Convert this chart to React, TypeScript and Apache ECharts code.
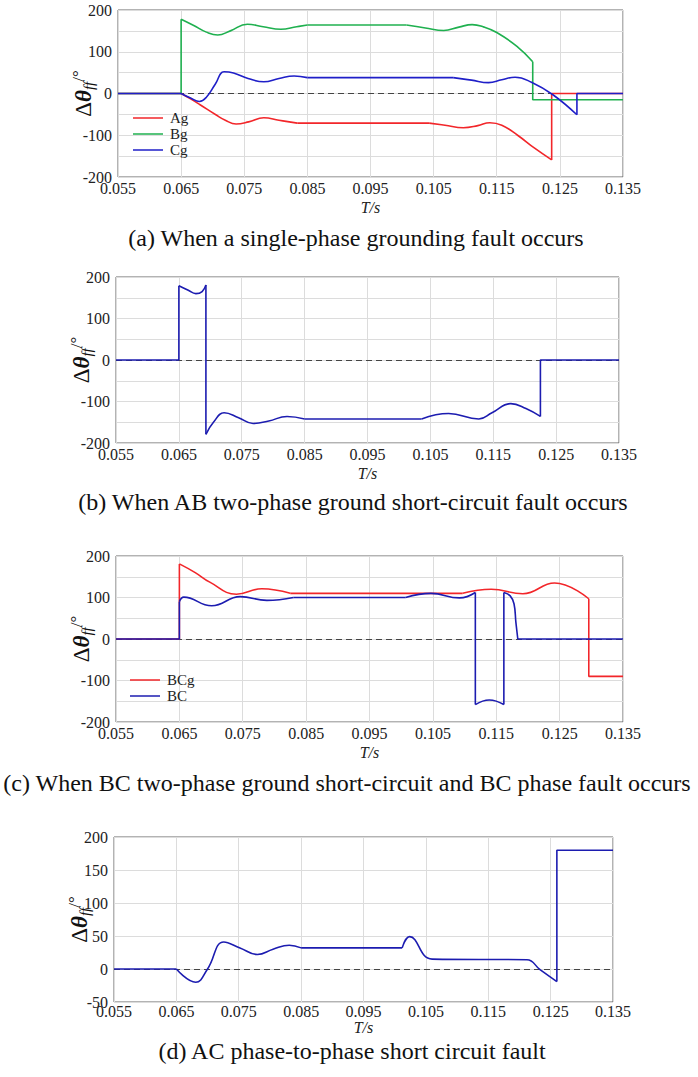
import React, { useEffect, useRef } from 'react';
import * as echarts from 'echarts';

type Pt = [number, number];

// time offset of the x axis (first tick)
const T0 = 0.055;
const T1 = 0.135;

// (a) single-phase grounding fault
const AG: Pt[] = [
  [0.055, 0], [0.065, 0], [0.0665, -13], [0.068, -27], [0.0705, -51], [0.072, -64], [0.0737, -73],
  [0.0757, -68], [0.0781, -58], [0.0805, -64], [0.0834, -71], [0.085, -71], [0.1043, -71],
  [0.1068, -76], [0.1097, -82], [0.112, -77], [0.1139, -70], [0.1158, -76], [0.1183, -100],
  [0.121, -131], [0.1237, -159], [0.1237, 0], [0.135, 0],
];
const BG: Pt[] = [
  [0.055, 0], [0.065, 0], [0.065, 178], [0.067, 163], [0.069, 147], [0.0708, 140], [0.0728, 150],
  [0.0755, 166], [0.078, 160], [0.0808, 154], [0.0833, 160], [0.085, 164], [0.1007, 164],
  [0.1037, 157], [0.1066, 151], [0.109, 159], [0.1111, 165], [0.113, 159], [0.115, 146],
  [0.1182, 113], [0.1207, 76], [0.1207, -15], [0.135, -15],
];
const CG: Pt[] = [
  [0.055, 0], [0.065, 0], [0.0665, -11], [0.0679, -19], [0.069, -9], [0.0704, 22], [0.0718, 52],
  [0.0733, 49], [0.0756, 36], [0.0781, 28], [0.0805, 36], [0.0829, 42], [0.085, 38], [0.1081, 38],
  [0.111, 32], [0.1137, 26], [0.1158, 33], [0.1179, 39], [0.1205, 27], [0.1239, -3],
  [0.1277, -51], [0.1277, 0], [0.135, 0],
];

// (b) AB two-phase ground short-circuit
const AB: Pt[] = [
  [0.055, 0], [0.065, 0], [0.065, 179], [0.0665, 168], [0.0677, 160], [0.0687, 165], [0.0693, 181],
  [0.0693, -179], [0.0705, -150], [0.0722, -127], [0.0745, -139], [0.0768, -153], [0.0793, -147],
  [0.0822, -136], [0.085, -142], [0.1036, -142], [0.1079, -129], [0.1127, -142], [0.1148, -127],
  [0.1178, -105], [0.1202, -117], [0.1225, -136], [0.1225, 0], [0.135, 0],
];

// (c) BC two-phase ground short-circuit and BC phase fault
const BCG: Pt[] = [
  [0.055, 0], [0.065, 0], [0.065, 181], [0.0675, 160], [0.0698, 137], [0.074, 108], [0.078, 121],
  [0.0825, 110], [0.085, 110], [0.1097, 110], [0.1142, 120], [0.1192, 109], [0.1242, 135],
  [0.1296, 97], [0.1296, -90], [0.135, -90],
];
const BC: Pt[] = [
  [0.055, 0], [0.065, 0], [0.065, 90], [0.0657, 101], [0.0701, 80], [0.0746, 102], [0.0788, 93],
  [0.083, 100], [0.1007, 100], [0.1047, 110], [0.1092, 99], [0.1117, 112], [0.1117, -158],
  [0.1139, -147], [0.1162, -158], [0.1162, 112], [0.1172, 104], [0.1178, 85], [0.1181, 40],
  [0.1184, 0], [0.135, 0],
];

// (d) AC phase-to-phase short circuit
const AC: Pt[] = [
  [0.055, 0], [0.065, 0], [0.0681, -20], [0.07, 0], [0.0726, 41], [0.0752, 32], [0.078, 22],
  [0.0805, 30], [0.0831, 36], [0.085, 32], [0.1012, 32], [0.1024, 49], [0.106, 15], [0.1212, 14],
  [0.1233, -1], [0.126, -19], [0.126, 180], [0.135, 180],
];

const CAPTIONS = [
  '(a) When a single-phase grounding fault occurs',
  '(b) When AB two-phase ground short-circuit fault occurs',
  '(c) When BC two-phase ground short-circuit and BC phase fault occurs',
  '(d) AC phase-to-phase short circuit fault',
];

const RED = '#f2262a';
const GREEN = '#1fb04f';
const BLUE = '#1f1fc8';
const NAVY = '#1c1cb0';

const FONT = 'Liberation Serif';

function pieces(pts: Pt[]) {
  const out: { smooth: boolean; data: Pt[] }[] = [];
  let cur: Pt[] = [pts[0]];
  let curSmooth: boolean | null = null;
  for (let i = 1; i < pts.length; i++) {
    const a = pts[i - 1];
    const b = pts[i];
    const s = !(a[0] === b[0] || a[1] === b[1]);
    if (curSmooth === null || curSmooth === s) {
      curSmooth = s;
      cur.push(b);
    } else {
      out.push({ smooth: curSmooth, data: cur });
      cur = [a, b];
      curSmooth = s;
    }
  }
  out.push({ smooth: !!curSmooth, data: cur });
  return out;
}

function mkSeries(name: string, pts: Pt[], color: string, gi: number, zero: boolean) {
  return pieces(pts).map((p, k) => {
    const s: any = {
      type: 'line',
      name,
      xAxisIndex: gi,
      yAxisIndex: gi,
      data: p.data.map(([t, v]) => [t - T0, v]),
      smooth: p.smooth ? 0.45 : false,
      symbol: 'none',
      lineStyle: { color, width: 1.6 },
      itemStyle: { color },
      z: 3,
    };
    if (zero && k === 0) {
      s.markLine = {
        silent: true,
        symbol: 'none',
        label: { show: false },
        lineStyle: { type: [6, 4], color: '#444', width: 1 },
        data: [{ yAxis: 0 }],
        z: 2,
      };
    }
    return s;
  });
}

const GRIDS = [
  { left: 118, top: 10, width: 505, height: 167 },
  { left: 116, top: 277, width: 503, height: 166 },
  { left: 116, top: 556, width: 507, height: 166 },
  { left: 114, top: 837, width: 499, height: 165 },
];
const X_NAME_GAP = [22, 22, 22, 17];
const X_LABEL_MARGIN = [3, 3, 3, 1];
const CAPTION_Y = [238, 502, 783, 1051];
const CAPTION_X = [356, 353, 347, 352];

const yName = '{d|Δ}{t|θ}{s|ff}{u|/°}';
const yRich = {
  d: { fontSize: 23, fontFamily: FONT, color: '#111', lineHeight: 26 },
  t: { fontSize: 23, fontFamily: FONT, fontStyle: 'italic', fontWeight: 'bold', color: '#111', lineHeight: 26 },
  s: { fontSize: 15, fontFamily: FONT, fontStyle: 'italic', color: '#111', verticalAlign: 'bottom', lineHeight: 15 },
  u: { fontSize: 17, fontFamily: FONT, color: '#111', verticalAlign: 'top', lineHeight: 18 },
};

export default function App() {
  const ref = useRef<HTMLDivElement>(null);
  useEffect(() => {
    if (!ref.current) return;
    const chart = echarts.init(ref.current, undefined, { renderer: 'svg' });
    const gridLine = { show: true, lineStyle: { color: '#dcdcdc', width: 1 } };
    const xAxis = GRIDS.map((_, i) => ({
      gridIndex: i,
      type: 'value',
      min: 0,
      max: T1 - T0,
      interval: 0.01,
      axisLabel: {
        formatter: (v: number) => (v + T0).toFixed(3),
        fontSize: 16,
        fontFamily: FONT,
        color: '#222',
        margin: X_LABEL_MARGIN[i],
      },
      axisLine: { show: false },
      axisTick: { show: false },
      splitLine: gridLine,
      name: 'T/s',
      nameLocation: 'middle',
      nameGap: X_NAME_GAP[i],
      nameMoveOverlap: false,
      nameTextStyle: { fontSize: 16, fontFamily: FONT, fontStyle: 'italic', color: '#222' },
    }));
    const yAxis = GRIDS.map((_, i) => {
      const d = i === 3;
      return {
        gridIndex: i,
        type: 'value',
        min: d ? -50 : -200,
        max: 200,
        interval: d ? 50 : 100,
        minorTick: { show: false, splitNumber: 2 },
        minorSplitLine: { show: !d, lineStyle: { color: '#dcdcdc', width: 1 } },
        splitLine: gridLine,
        axisLine: { show: false },
        axisTick: { show: false },
        axisLabel: { fontSize: 16, fontFamily: FONT, color: '#222', margin: 6 },
        name: yName,
        nameLocation: 'middle',
        nameRotate: 90,
        nameGap: 22,
        nameMoveOverlap: false,
        nameTextStyle: { rich: yRich },
      };
    });
    const series = [
      ...mkSeries('Ag', AG, RED, 0, true),
      ...mkSeries('Bg', BG, GREEN, 0, false),
      ...mkSeries('Cg', CG, BLUE, 0, false),
      ...mkSeries('AB', AB, NAVY, 1, true),
      ...mkSeries('BCg', BCG, RED, 2, true),
      ...mkSeries('BC', BC, NAVY, 2, false),
      ...mkSeries('AC', AC, NAVY, 3, true),
    ];
    const legendBase = {
      orient: 'vertical',
      padding: 0,
      itemWidth: 30,
      itemHeight: 16,
      itemGap: 0,
      textStyle: { fontSize: 15, fontFamily: FONT, color: '#222', lineHeight: 16, padding: [0, 0, 0, 2] },
      icon: 'path://M0,7 L30,7 L30,8.5 L0,8.5 Z',
    };
    chart.setOption({
      animation: false,
      backgroundColor: '#fff',
      grid: GRIDS.map((g) => ({ ...g, show: true, borderColor: '#666', borderWidth: 1, backgroundColor: 'transparent' })),
      xAxis,
      yAxis,
      legend: [
        { ...legendBase, data: ['Ag', 'Bg', 'Cg'], left: 133, top: 110 },
        { ...legendBase, data: ['BCg', 'BC'], left: 130, top: 672 },
      ],
      series,
      graphic: CAPTIONS.map((c, i) => ({
        type: 'text',
        x: CAPTION_X[i],
        y: CAPTION_Y[i],
        style: {
          text: c,
          font: `24px ${FONT}`,
          fill: '#111',
          align: 'center',
          verticalAlign: 'middle',
        },
      })),
    });
    return () => chart.dispose();
  }, []);
  return <div ref={ref} style={{ position: 'fixed', left: 0, top: 0, width: 698, height: 1077 }} />;
}
